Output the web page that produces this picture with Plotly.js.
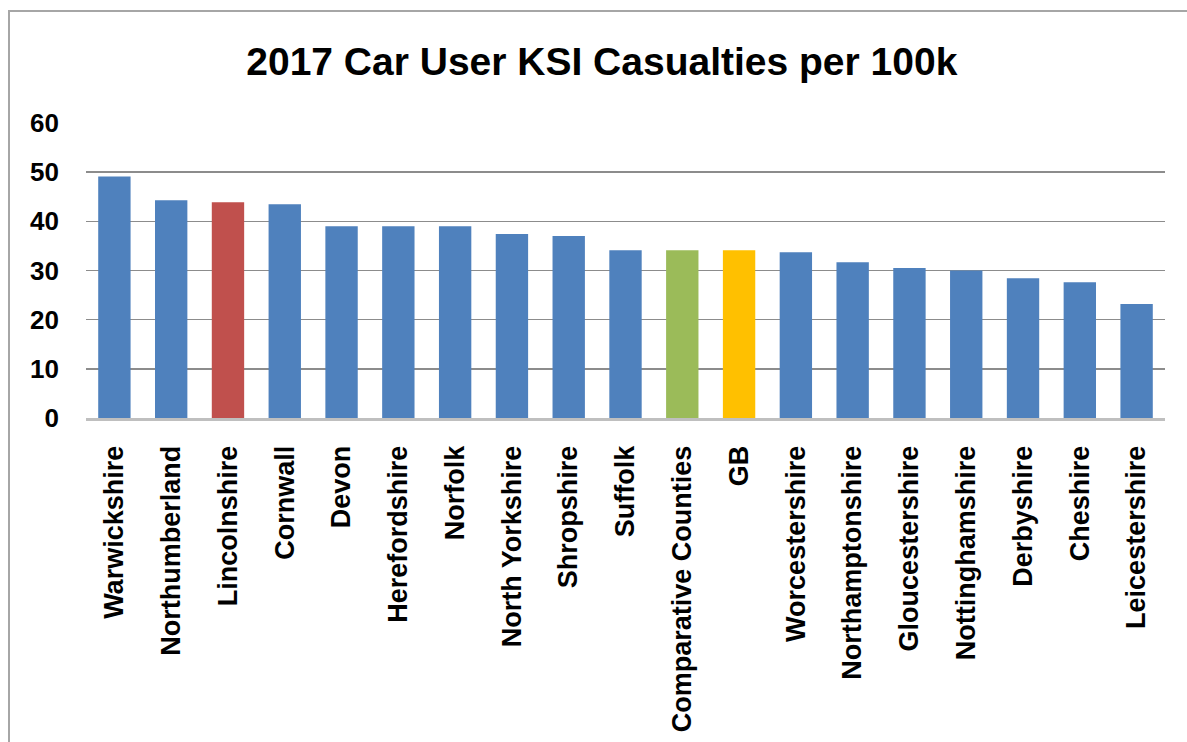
<!DOCTYPE html>
<html>
<head>
<meta charset="utf-8">
<script src="https://cdn.plot.ly/plotly-3.0.1.min.js"></script>
<style>
  html, body { margin: 0; padding: 0; background: #ffffff; }
  #frame { position: absolute; left: 8px; top: 10px; width: 1200px; height: 760px;
           border-left: 2px solid #a6a6a6; border-top: 2px solid #a6a6a6; }
  #chart { position: absolute; left: 0; top: 0; width: 1187px; height: 742px; }
</style>
</head>
<body>
<div id="frame"></div>
<div id="chart"></div>
<script>
const categories = ["Warwickshire", "Northumberland", "Lincolnshire", "Cornwall", "Devon",
  "Herefordshire", "Norfolk", "North Yorkshire", "Shropshire", "Suffolk",
  "Comparative Counties", "GB", "Worcestershire", "Northamptonshire", "Gloucestershire",
  "Nottinghamshire", "Derbyshire", "Cheshire", "Leicestershire"];
const values = [49.1, 44.3, 43.9, 43.5, 39.0, 39.0, 39.0, 37.4, 37.0, 34.1,
  34.1, 34.1, 33.7, 31.7, 30.5, 30.0, 28.4, 27.6, 23.2];
const barColors = ["#4F81BD", "#4F81BD", "#C0504D", "#4F81BD", "#4F81BD",
  "#4F81BD", "#4F81BD", "#4F81BD", "#4F81BD", "#4F81BD",
  "#9BBB59", "#FFC000", "#4F81BD", "#4F81BD", "#4F81BD",
  "#4F81BD", "#4F81BD", "#4F81BD", "#4F81BD"];
const yTicks = [0, 10, 20, 30, 40, 50, 60];

const font = "Liberation Sans, Arial, sans-serif";

Plotly.newPlot("chart", [{
  type: "bar",
  x: categories,
  y: values,
  marker: { color: barColors },
  hoverinfo: "x+y"
}], {
  width: 1187,
  height: 742,
  margin: { l: 86, r: 22, t: 123, b: 324 },
  paper_bgcolor: "rgba(0,0,0,0)",
  plot_bgcolor: "rgba(0,0,0,0)",
  bargap: 0.43,
  showlegend: false,
  title: {
    text: "2017 Car User KSI Casualties per 100k",
    font: { family: font, size: 39, color: "#000000", weight: "bold" },
    x: 0.507, xref: "container", xanchor: "center",
    y: 0.917, yref: "container", yanchor: "middle"
  },
  xaxis: {
    type: "category",
    tickangle: -90,
    tickfont: { family: font, size: 27, color: "#000000", weight: "bold" },
    showgrid: false,
    showline: true,
    linecolor: "#bfbfbf",
    linewidth: 3,
    ticks: "",
    ticklabelstandoff: 14,
    fixedrange: true
  },
  yaxis: {
    range: [0, 60],
    tickvals: yTicks,
    ticktext: yTicks.map(String),
    tickfont: { family: font, size: 26, color: "#000000", weight: "bold" },
    showgrid: true,
    gridcolor: "#8c8c8c",
    gridwidth: 1.5,
    zeroline: false,
    showline: false,
    ticks: "",
    ticklabelstandoff: 26,
    fixedrange: true
  }
}, { displayModeBar: false, staticPlot: true });
</script>
</body>
</html>
